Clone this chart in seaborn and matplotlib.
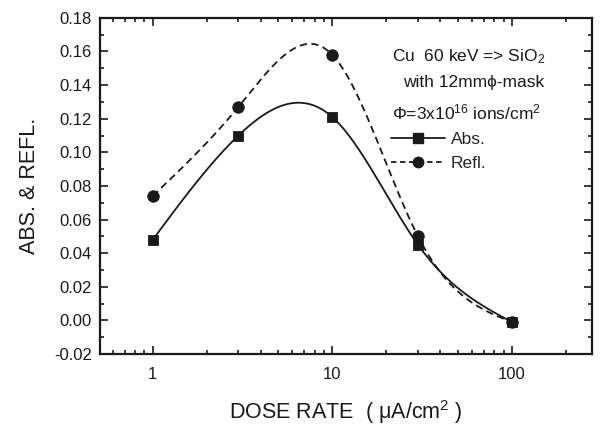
#!/usr/bin/env python3
"""
Absorbance / reflectance vs. dose rate for Cu 60 keV implanted SiO2.
"""

import numpy as np
import pandas as pd
import matplotlib
matplotlib.use("Agg")
import matplotlib.pyplot as plt
from matplotlib.lines import Line2D
from matplotlib.ticker import MultipleLocator, LogLocator, NullFormatter, FixedLocator, FixedFormatter
import seaborn as sns

# data
dose_rate = [1, 3, 10, 30, 100]
abs_vals = [0.048, 0.110, 0.121, 0.045, -0.001]
refl_vals = [0.074, 0.127, 0.158, 0.050, -0.001]
x_ticks = [1, 10, 100]
x_tick_labels = ["1", "10", "100"]


def natural_spline(x, y, n=200):
    """Natural cubic spline through (x, y), used only to draw the smooth line."""
    x = np.asarray(x, float)
    y = np.asarray(y, float)
    k = len(x)
    h = np.diff(x)
    A = np.zeros((k, k))
    b = np.zeros(k)
    A[0, 0] = A[-1, -1] = 1
    for i in range(1, k - 1):
        A[i, i - 1] = h[i - 1]
        A[i, i] = 2 * (h[i - 1] + h[i])
        A[i, i + 1] = h[i]
        b[i] = 6 * ((y[i + 1] - y[i]) / h[i] - (y[i] - y[i - 1]) / h[i - 1])
    m = np.linalg.solve(A, b)
    xs = np.linspace(x[0], x[-1], n)
    ys = np.empty_like(xs)
    for j, xv in enumerate(xs):
        i = min(np.searchsorted(x, xv, side="right") - 1, k - 2)
        t = xv - x[i]
        a = (m[i + 1] - m[i]) / (6 * h[i])
        c = (y[i + 1] - y[i]) / h[i] - h[i] * (2 * m[i] + m[i + 1]) / 6
        ys[j] = y[i] + c * t + m[i] / 2 * t ** 2 + a * t ** 3
    return xs, ys


sns.set_style("ticks")
plt.rcParams["font.family"] = ["Liberation Sans", "DejaVu Sans"]
plt.rcParams["mathtext.fontset"] = "custom"
plt.rcParams["mathtext.rm"] = "Liberation Sans"
plt.rcParams["mathtext.it"] = "Liberation Sans"

ink = "#1a1a1a"
df = pd.DataFrame({"dose": dose_rate, "Abs.": abs_vals, "Refl.": refl_vals})

fig = plt.figure(figsize=(6, 4.25), dpi=100)
ax = fig.add_axes([0.167, 0.167, 0.820, 0.791])

lx = np.log10(df["dose"])
xs, ya = natural_spline(lx, df["Abs."])
_, yr = natural_spline(lx, df["Refl."])
ax.plot(10 ** xs, ya, color=ink, lw=1.3, ls="-")
ax.plot(10 ** xs, yr, color=ink, lw=1.3, ls=(0, (4, 2.5)))

sns.scatterplot(data=df, x="dose", y="Abs.", marker="s", s=55, color=ink,
                edgecolor=ink, ax=ax, zorder=3)
sns.scatterplot(data=df, x="dose", y="Refl.", marker="o", s=68, color=ink,
                edgecolor=ink, ax=ax, zorder=3)

ax.set_xscale("log")
ax.set_xlim(0.51, 280)
ax.set_ylim(-0.02, 0.18)

ax.xaxis.set_major_locator(FixedLocator(x_ticks))
ax.xaxis.set_major_formatter(FixedFormatter(x_tick_labels))
ax.xaxis.set_minor_locator(LogLocator(base=10, subs=np.arange(2, 10)))
ax.xaxis.set_minor_formatter(NullFormatter())
ax.yaxis.set_major_locator(MultipleLocator(0.02))
ax.yaxis.set_minor_locator(MultipleLocator(0.01))
ax.yaxis.set_major_formatter(plt.FuncFormatter(lambda v, p: f"{v:.2f}"))

ax.tick_params(which="both", direction="in", top=True, right=True, width=1.2,
               labelsize=12, colors=ink)
ax.tick_params(which="major", length=6)
ax.tick_params(which="minor", length=3)
ax.tick_params(axis="y", which="major", pad=6)
ax.tick_params(axis="x", which="major", pad=9)
for sp in ax.spines.values():
    sp.set_linewidth(1.6)
    sp.set_color(ink)

ax.set_xlabel(r"DOSE RATE  ( $\mu$A/cm$^2$ )", fontsize=15.5, labelpad=12, color=ink)
ax.set_ylabel("ABS. & REFL.", fontsize=15.5, labelpad=10, color=ink)

# annotation block
ax.text(0.593, 0.885, r"Cu  60 keV => SiO$_2$", transform=ax.transAxes,
        fontsize=12.5, va="center", ha="left", color=ink)
ax.text(0.616, 0.808, "with 12mm\u03d5-mask", transform=ax.transAxes,
        fontsize=12.5, va="center", ha="left", color=ink)
ax.text(0.593, 0.718, r"$\Phi$=3x10$^{16}$ ions/cm$^2$", transform=ax.transAxes,
        fontsize=12.5, va="center", ha="left", color=ink)

handles = [
    Line2D([], [], color=ink, lw=1.3, marker="s", markersize=7, ls="-"),
    Line2D([], [], color=ink, lw=1.3, marker="o", markersize=7.5, ls=(0, (3, 2))),
]
ax.legend(handles, ["Abs.", "Refl."], loc="upper left", bbox_to_anchor=(0.592, 0.660),
          frameon=False, fontsize=12.5, handlelength=3.1, handletextpad=0.3,
          labelspacing=0.5, borderaxespad=0, borderpad=0)

fig.savefig("out.png", dpi=100)
